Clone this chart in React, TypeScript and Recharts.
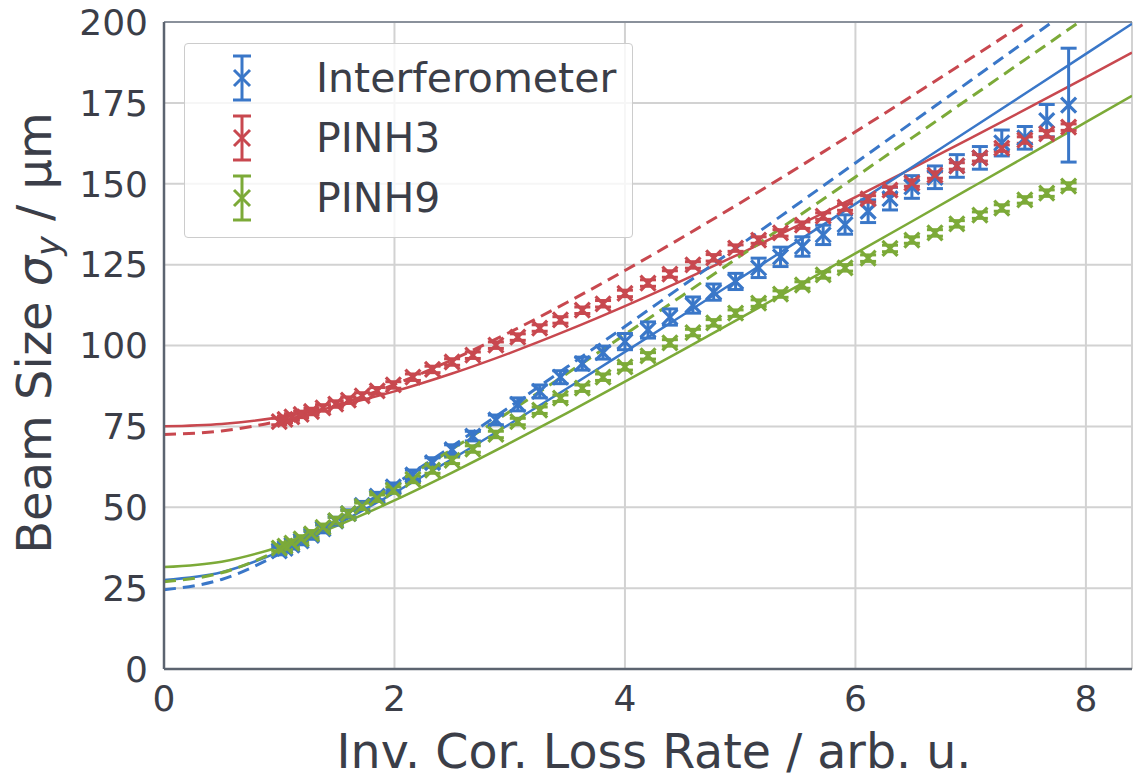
import React from "react";
import {
  ComposedChart,
  Line,
  Scatter,
  ErrorBar,
  XAxis,
  YAxis,
  CartesianGrid,
  ReferenceLine,
} from "recharts";

// Measurement positions (inverse corrected loss rate, arb. u.)
const measX = [
  1.0, 1.05, 1.11, 1.19, 1.28, 1.38, 1.49, 1.6, 1.72, 1.85, 1.99, 2.16, 2.33, 2.5,
  2.68, 2.88, 3.07, 3.26, 3.44, 3.63, 3.81, 4.0, 4.2, 4.39, 4.59, 4.77, 4.96, 5.16,
  5.35, 5.54, 5.72, 5.91, 6.11, 6.3, 6.49, 6.69, 6.88, 7.08, 7.27, 7.47, 7.66, 7.85,
];

// Beam size sigma_y (µm) per monitor
const interferometerY = [
  36.5, 37.3, 38.3, 39.6, 41.3, 43.3, 45.7, 48.0, 50.6, 53.4, 56.3, 60.0, 63.8, 67.8,
  72.0, 77.0, 81.8, 85.8, 90.2, 94.4, 97.8, 101.2, 104.8, 108.8, 112.5, 116.5, 119.8, 124.0,
  127.4, 130.6, 134.2, 137.4, 141.5, 145.4, 149.0, 152.0, 155.5, 158.0, 162.6, 164.2, 169.5, 174.3,
];
const interferometerErr = [
  1.2, 1.2, 1.2, 1.2, 1.2, 1.2, 1.2, 1.2, 1.2, 1.2, 1.2, 1.5, 1.5, 1.5,
  1.5, 1.5, 2.0, 2.0, 2.0, 2.0, 2.0, 2.5, 2.5, 2.5, 2.5, 2.5, 2.5, 3.0,
  3.0, 3.0, 3.0, 3.0, 3.5, 3.5, 3.5, 3.5, 3.5, 3.5, 4.0, 3.5, 5.0, 17.6,
];
const pinh3Y = [
  76.5, 77.2, 77.9, 78.7, 79.6, 80.7, 81.9, 83.1, 84.4, 86.0, 87.8, 90.2, 92.6, 94.9,
  97.0, 100.1, 102.6, 105.4, 107.9, 110.9, 112.9, 116.1, 119.3, 122.1, 124.9, 127.1, 130.1, 132.6,
  134.8, 137.2, 140.0, 142.8, 145.3, 148.0, 150.2, 152.7, 155.5, 158.0, 161.0, 163.5, 165.4, 167.5,
];
const pinh3Err = [
  1.0, 1.0, 1.0, 1.0, 1.0, 1.0, 1.0, 1.0, 1.0, 1.0, 1.0, 1.0, 1.0, 1.0,
  1.0, 1.0, 1.0, 1.0, 1.0, 1.0, 1.0, 1.0, 1.0, 1.0, 1.0, 1.0, 1.0, 1.0,
  1.0, 1.0, 1.0, 1.0, 1.0, 1.0, 1.0, 1.0, 1.0, 1.0, 1.0, 1.0, 1.0, 1.0,
];
const pinh9Y = [
  37.4, 38.0, 38.9, 40.2, 41.8, 43.8, 45.9, 48.0, 50.3, 52.8, 55.3, 58.6, 61.5, 64.5,
  68.0, 72.5, 76.5, 80.0, 83.7, 86.8, 90.2, 93.4, 96.8, 100.8, 104.0, 107.0, 110.0, 113.1,
  115.9, 118.7, 121.8, 124.0, 127.0, 130.0, 132.6, 134.8, 137.6, 140.3, 142.5, 145.0, 147.1, 149.3,
];
const pinh9Err = [
  1.0, 1.0, 1.0, 1.0, 1.0, 1.0, 1.0, 1.0, 1.0, 1.0, 1.0, 1.0, 1.0, 1.0,
  1.0, 1.0, 1.0, 1.0, 1.0, 1.0, 1.0, 1.0, 1.0, 1.0, 1.0, 1.0, 1.0, 1.0,
  1.0, 1.0, 1.0, 1.0, 1.0, 1.0, 1.0, 1.0, 1.0, 1.0, 1.0, 1.0, 1.0, 1.0,
];

// Fit curves, sampled along the loss-rate axis
const fitX = [0, 0.5, 1, 1.5, 2, 2.5, 3, 3.5, 4, 4.5, 5, 5.5, 6, 6.5, 7, 7.5, 8, 8.4];
const interferometerFit = [
  27.5, 29.91, 36.19, 44.73, 54.49, 64.91, 75.73, 86.79, 98.02, 109.35, 120.77, 132.25,
  143.77, 155.33, 166.92, 178.53, 190.16, 199.47,
];
const interferometerFitAlt = [
  24.5, 27.68, 35.54, 45.74, 57.03, 68.88, 81.04, 93.4, 105.87, 118.44, 131.06, 143.73,
  156.43, 169.16, 181.91, 194.67, 207.45,
];
const pinh3Fit = [
  75.0, 75.72, 77.84, 81.26, 85.81, 91.33, 97.66, 104.65, 112.16, 120.12, 128.43, 137.03,
  145.86, 154.9, 164.09, 173.43, 182.89, 190.52,
];
const pinh3FitAlt = [
  72.5, 73.56, 76.66, 81.55, 87.95, 95.56, 104.1, 113.36, 123.19, 133.46, 144.07, 154.95,
  166.06, 177.35, 188.77, 200.33, 211.98,
];
const pinh9Fit = [
  31.5, 33.17, 37.73, 44.29, 52.12, 60.71, 69.79, 79.2, 88.81, 98.59, 108.48, 118.45,
  128.48, 138.57, 148.7, 158.85, 169.04, 177.2,
];
const pinh9FitAlt = [
  27.0, 29.74, 36.76, 46.15, 56.74, 67.97, 79.57, 91.4, 103.39, 115.48, 127.64, 139.86,
  152.11, 164.41, 176.73, 189.06, 201.42,
];

const xTicks = [0, 2, 4, 6, 8];
const yTicks = [0, 25, 50, 75, 100, 125, 150, 175, 200];
const seriesNames = ["Interferometer", "PINH3", "PINH9"];

const BLUE = "#3a77c8";
const RED = "#c8484f";
const GREEN = "#7caa38";
const TEXT = "#3b3e48";
const AXIS = "#5c6470";
const GRID = "#d2d2d2";
const FONT = "'DejaVu Sans', sans-serif";

const toPoints = (xs: number[], ys: number[], errs?: number[]) =>
  ys.map((y, i) => (errs ? { x: xs[i], y, err: errs[i] } : { x: xs[i], y }));

const interferometerPts = toPoints(measX, interferometerY, interferometerErr);
const pinh3Pts = toPoints(measX, pinh3Y, pinh3Err);
const pinh9Pts = toPoints(measX, pinh9Y, pinh9Err);

const makeCross = (color: string) => (props: any) => {
  const { cx, cy } = props;
  if (cx == null || cy == null) return <g />;
  const h = 7.5;
  return (
    <path
      d={`M${cx - h},${cy - h}L${cx + h},${cy + h}M${cx - h},${cy + h}L${cx + h},${cy - h}`}
      stroke={color}
      strokeWidth={3.2}
      fill="none"
    />
  );
};

const renderYLabel = () => (
  <text
    transform="translate(51,333) rotate(-90)"
    textAnchor="middle"
    fontSize={48}
    fill={TEXT}
    fontFamily={FONT}
  >
    Beam Size{"\u00a0"}
    <tspan fontStyle="italic">σ</tspan>
    <tspan fontStyle="italic" fontSize={33} dy={9}>
      y
    </tspan>
    <tspan dy={-9}>{"\u00a0/ µm"}</tspan>
  </text>
);

const renderXLabel = () => (
  <text x={654} y={768} textAnchor="middle" fontSize={47.5} fill={TEXT} fontFamily={FONT}>
    Inv. Cor. Loss Rate / arb. u.
  </text>
);

const LegendIcon = ({ color }: { color: string }) => (
  <svg width={30} height={50} style={{ display: "block" }}>
    <line x1={15} y1={3} x2={15} y2={47} stroke={color} strokeWidth={3} />
    <line x1={6} y1={3} x2={24} y2={3} stroke={color} strokeWidth={3} />
    <line x1={6} y1={47} x2={24} y2={47} stroke={color} strokeWidth={3} />
    <path d="M7,17L23,33M7,33L23,17" stroke={color} strokeWidth={3} fill="none" />
  </svg>
);

const PlotLegend = () => {
  const colors = [BLUE, RED, GREEN];
  return (
    <div
      style={{
        position: "absolute",
        left: 184,
        top: 43,
        width: 449,
        height: 195,
        boxSizing: "border-box",
        border: "1.5px solid #cccccc",
        borderRadius: 4,
        background: "rgba(255,255,255,0.8)",
        fontFamily: FONT,
      }}
    >
      {seriesNames.map((name, i) => (
        <div
          key={name}
          style={{
            position: "absolute",
            left: 42,
            top: 9 + i * 60,
            height: 50,
            display: "flex",
            alignItems: "center",
          }}
        >
          <LegendIcon color={colors[i]} />
          <span style={{ marginLeft: 59, fontSize: 41, color: TEXT, lineHeight: "50px" }}>
            {name}
          </span>
        </div>
      ))}
    </div>
  );
};

export default function App() {
  return (
    <div style={{ position: "absolute", left: 0, top: 0, width: 1133, height: 778, background: "#fff" }}>
      <ComposedChart
        width={1133}
        height={778}
        margin={{ top: 22, right: 1, bottom: 9, left: 0 }}
      >
        <CartesianGrid stroke={GRID} strokeWidth={2} />
        <XAxis
          type="number"
          dataKey="x"
          domain={[0, 8.4]}
          ticks={xTicks}
          allowDataOverflow
          height={100}
          tickLine={false}
          tickSize={0}
          tickMargin={16}
          axisLine={{ stroke: AXIS, strokeWidth: 2.5 }}
          tick={{ fill: TEXT, fontSize: 36, fontFamily: FONT }}
          label={renderXLabel}
        />
        <YAxis
          type="number"
          dataKey="y"
          domain={[0, 200]}
          ticks={yTicks}
          allowDataOverflow
          width={164}
          tickLine={false}
          tickSize={0}
          tickMargin={16}
          axisLine={{ stroke: AXIS, strokeWidth: 2.5 }}
          tick={{ fill: TEXT, fontSize: 36, fontFamily: FONT }}
          label={renderYLabel}
        />
        <ReferenceLine y={200} stroke="#8a919b" strokeWidth={2} />

        <Line data={toPoints(fitX, pinh3Fit)} dataKey="y" type="monotone" stroke={RED} strokeWidth={2.5} dot={false} isAnimationActive={false} />
        <Line data={toPoints(fitX.slice(0, 17), pinh3FitAlt)} dataKey="y" type="monotone" stroke={RED} strokeWidth={3} strokeDasharray="12 7" dot={false} isAnimationActive={false} />
        <Line data={toPoints(fitX, interferometerFit)} dataKey="y" type="monotone" stroke={BLUE} strokeWidth={2.5} dot={false} isAnimationActive={false} />
        <Line data={toPoints(fitX.slice(0, 17), interferometerFitAlt)} dataKey="y" type="monotone" stroke={BLUE} strokeWidth={3} strokeDasharray="12 7" dot={false} isAnimationActive={false} />
        <Line data={toPoints(fitX, pinh9Fit)} dataKey="y" type="monotone" stroke={GREEN} strokeWidth={2.5} dot={false} isAnimationActive={false} />
        <Line data={toPoints(fitX.slice(0, 17), pinh9FitAlt)} dataKey="y" type="monotone" stroke={GREEN} strokeWidth={3} strokeDasharray="12 7" dot={false} isAnimationActive={false} />

        <Scatter name={seriesNames[0]} data={interferometerPts} dataKey="y" shape={makeCross(BLUE)} isAnimationActive={false}>
          <ErrorBar dataKey="err" direction="y" width={8} stroke={BLUE} strokeWidth={3} isAnimationActive={false} />
        </Scatter>
        <Scatter name={seriesNames[1]} data={pinh3Pts} dataKey="y" shape={makeCross(RED)} isAnimationActive={false}>
          <ErrorBar dataKey="err" direction="y" width={8} stroke={RED} strokeWidth={3} isAnimationActive={false} />
        </Scatter>
        <Scatter name={seriesNames[2]} data={pinh9Pts} dataKey="y" shape={makeCross(GREEN)} isAnimationActive={false}>
          <ErrorBar dataKey="err" direction="y" width={8} stroke={GREEN} strokeWidth={3} isAnimationActive={false} />
        </Scatter>
      </ComposedChart>
      <PlotLegend />
    </div>
  );
}
